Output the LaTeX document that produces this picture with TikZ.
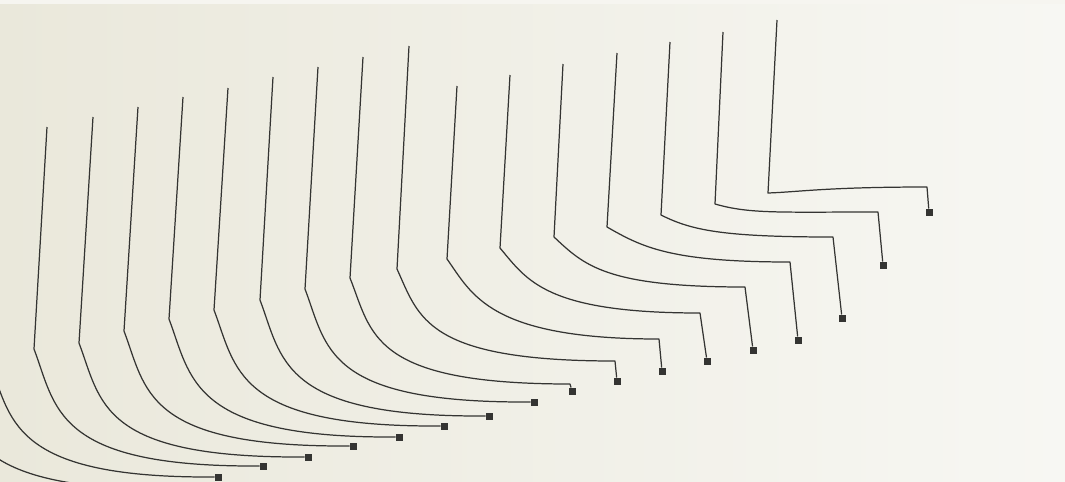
\documentclass[tikz,border=0pt]{standalone}
\usepackage{xcolor}
\usepackage{tikz}
\usetikzlibrary{calc}
\definecolor{paperleft}{RGB}{234,232,219}
\definecolor{paperright}{RGB}{247,247,243}
\definecolor{papertop}{RGB}{246,245,240}
\definecolor{wiregray}{RGB}{52,52,50}

\begin{document}
\begin{tikzpicture}[
    x=0.02cm, y=-0.02cm,
    wire/.style={draw=wiregray, line width=0.7pt, line join=round},
    pad/.style={rectangle, fill=wiregray, minimum size=0.14cm, inner sep=0pt, outer sep=0pt}
]
\useasboundingbox (0,0) rectangle (1065,481);
\shade[left color=paperleft, right color=paperright] (0,0) rectangle (1065,481);
\fill[papertop] (0,0) rectangle (1065,4);
\clip (0,0) rectangle (1065,481);

% n / top / bend / knee / pad / first control / pull
\foreach \n/\tx/\ty/\cx/\cy/\kx/\ky/\px/\py/\ux/\uy/\l in {
  b/-45/150/-54/372/165/489/175/489/22/58/199,
  a/-3/140/-11/360/208/477/218/477/22/58/199,
  1/47/127/34/349/253/466/263/466/22/58/199,
  2/93/117/79/343/298/457/308/457/22/58/199,
  3/138/107/124/331/343/446/353/446/22/58/199,
  4/183/97/169/319/389/437/399/437/22/58/199,
  5/228/88/214/310/434/426/444/426/22/58/199,
  6/273/77/260/300/479/416/489/416/22/58/199,
  7/318/67/305/289/524/402/534/402/22/58/199,
  8/363/57/350/278/570/384/572/391/22/55/200,
  9/409/46/397/269/615/361/617/381/22/48/190,
  10/457/86/447/259/659/339/662/371/25/35/170,
  11/510/75/500/248/700/313/707/361/27/32/155,
  12/563/64/554/237/745/287/753/350/30/28/140,
  13/617/53/607/227/790/262/798/340/35/20/120,
  14/670/42/661/215/833/237/842/318/30/15/112,
  15/723/32/715/204/878/212/883/265/35/10/100,
  16/777/20/768/193/927/187/929/212/30/-1/100%
}{
  \coordinate (top\n) at (\tx,\ty);
  \coordinate (bend\n) at (\cx,\cy);
  \coordinate (knee\n) at (\kx,\ky);
  \node[pad] (pad\n) at (\px,\py) {};
  \draw[wire] (top\n) -- (bend\n)
    .. controls ($(bend\n)+(\ux,\uy)$) and ($(knee\n)+(-\l,0)$) .. (knee\n)
    -- (pad\n);
}

\end{tikzpicture}
\end{document}
